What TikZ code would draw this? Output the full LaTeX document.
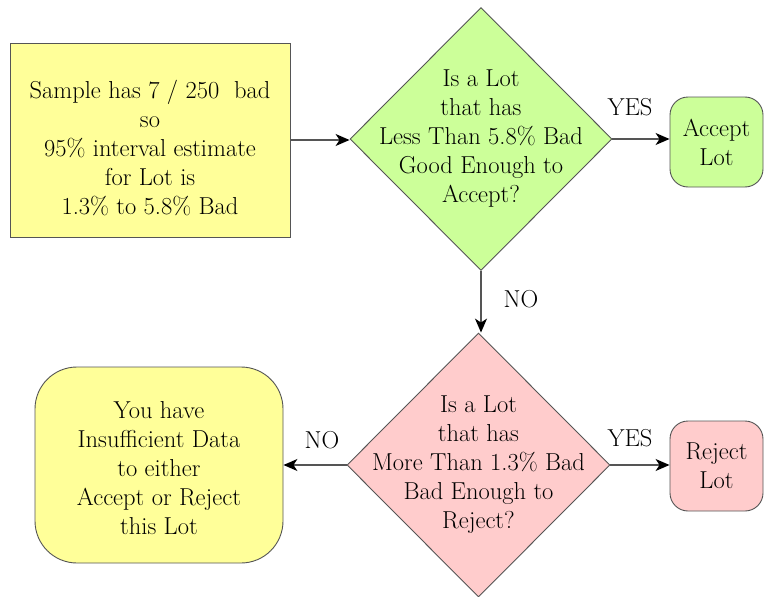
\documentclass[tikz,border=0pt]{standalone}
\usepackage{fontspec}
\usetikzlibrary{shapes.geometric,arrows.meta}
\definecolor{boxyellow}{HTML}{FFFF99}
\definecolor{boxgreen}{HTML}{CCFF99}
\definecolor{boxpink}{HTML}{FFCCCC}
\definecolor{edgegray}{HTML}{555555}
\begin{document}
\begin{tikzpicture}[x=1pt,y=-1pt,
  every node/.style={font=\fontsize{24.5}{29}\selectfont},
  txt/.style={align=center, inner sep=0pt},
  shapebox/.style={draw=edgegray, line width=0.9pt},
  dia/.style={shapebox, diamond, inner sep=0pt},
  conn/.style={draw=edgegray, line width=1.3pt, -{Stealth[length=14pt,width=12pt,inset=4pt,black]}},
  lbl/.style={inner sep=1pt}]
\useasboundingbox (0,0) rectangle (764,597);
% boxes
\node[shapebox, rectangle, fill=boxyellow, minimum width=280pt, minimum height=194pt] (s) at (150,140) {};
\node[txt] at ([yshift=-8pt]s.center) {Sample has 7 / 250\ \ bad\\so\\95\% interval estimate\\for Lot is\\1.3\% to 5.8\% Bad};
\node[dia, fill=boxgreen, minimum width=262pt, minimum height=263pt] (d1) at (481,139) {};
\node[txt] at (d1) {Is a Lot\\that has\\Less Than 5.8\% Bad\\Good Enough to\\Accept?};
\node[shapebox, rectangle, rounded corners=18pt, fill=boxgreen, minimum width=93pt, minimum height=90pt] (acc) at (716.5,142) {};
\node[txt] at (acc) {Accept\\Lot};
\node[dia, fill=boxpink, minimum width=263pt, minimum height=264pt] (d2) at (478.5,465) {};
\node[txt] at (d2) {Is a Lot\\that has\\More Than 1.3\% Bad\\Bad Enough to\\Reject?};
\node[shapebox, rectangle, rounded corners=18pt, fill=boxpink, minimum width=93pt, minimum height=90pt] (rej) at (716.5,466) {};
\node[txt] at (rej) {Reject\\Lot};
\node[shapebox, rectangle, rounded corners=42pt, fill=boxyellow, minimum width=248pt, minimum height=196pt] (ins) at (159,465) {};
\node[txt] at ([yshift=-3pt]ins.center) {You have\\Insufficient Data\\to either\\Accept or Reject\\this Lot};
% connectors
\draw[conn] (s.east) -- (d1.west |- s.east);
\draw[conn] (d1.east) -- (acc.west |- d1.east);
\draw[conn] (d1.south) -- (d1.south |- d2.north);
\draw[conn] (d2.east) -- (rej.west |- d2.east);
\draw[conn] (d2.west) -- (ins.east |- d2.west);
% labels
\node[lbl] (yes1) at (630,107) {YES};
\node[lbl] (no1) at (521,299) {NO};
\node[lbl] (yes2) at (630,438) {YES};
\node[lbl] (no2) at (322,440) {NO};
\end{tikzpicture}
\end{document}
